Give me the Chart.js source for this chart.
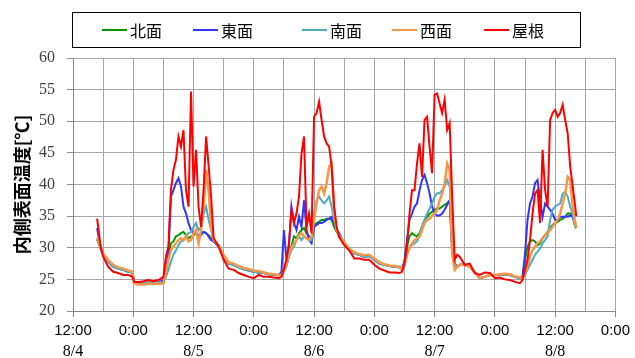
<!DOCTYPE html>
<html lang="ja">
<head>
  <meta charset="UTF-8">
  <title>内側表面温度</title>
  <script src="https://cdn.jsdelivr.net/npm/chart.js"></script>
  <style>
    body { margin: 0; background: #fff; }
    #wrap { width: 635px; height: 358px; }
  </style>
</head>
<body>
<div id="wrap"><canvas id="grafico" width="635" height="358"></canvas></div>
<script>
// hours since 8/4 12:00 (nights hourly, days every 30 min)
const hours = [
  4.8, 5.5, 6, 7, 8, 9, 10, 11, 11.8, 12.2, 13, 14, 15, 16, 17, 18,
  18.5, 19, 19.5, 20, 20.5, 21, 21.5, 22, 22.5, 23, 23.5, 24, 24.5, 25, 25.5, 26, 26.5, 27, 27.5, 28,
  29, 30, 31, 32, 33, 34, 35, 36, 37, 38, 39, 40, 41,
  41.5, 42, 42.5, 43, 43.5, 44, 44.5, 45, 45.5, 46, 46.5, 47, 47.5, 48, 48.5, 49, 49.5, 50, 50.5, 51, 51.5, 52, 52.5, 53,
  54, 55, 56, 57, 58, 59, 60, 61, 62, 63, 64, 65,
  65.5, 66, 66.5, 67, 67.5, 68, 68.5, 69, 69.5, 70, 70.5, 71, 71.5, 72, 72.5, 73, 73.5, 74, 74.5, 75, 75.5, 76,
  76.5, 77, 78, 79, 80, 81, 82, 83, 84, 85, 86, 87, 88, 89,
  89.5, 90, 90.5, 91, 91.5, 92, 92.5, 93, 93.5, 94, 94.5, 95, 95.5, 96, 96.5, 97, 97.5, 98, 98.5, 99, 99.5, 100, 100.2
];

const seriesNames = ['北面', '東面', '南面', '西面', '屋根'];

const kita = [
  31.3, 29.9, 28.9, 27.8, 27.0, 26.7, 26.5, 26.2, 26.1, 24.5, 24.3, 24.3, 24.3, 24.3, 24.3, 24.4,
  26.0, 28.6, 30.7, 31.0, 31.8, 32.0, 32.3, 32.5, 32.0, 31.5, 31.8, 32.0, 32.3, 31.8, 32.0, 32.5, 32.3, 32.0, 31.5, 31.0,
  30.2, 28.6, 27.5, 27.3, 26.9, 26.6, 26.4, 26.2, 26.1, 26.0, 25.8, 25.7, 25.7,
  26.0, 26.5, 27.3, 28.6, 30.2, 31.8, 31.5, 32.3, 32.8, 33.1, 32.3, 31.8, 31.5, 33.3, 33.9, 34.1, 34.4, 34.4, 34.6, 34.6, 34.4, 33.3, 32.5, 32.0,
  30.7, 29.6, 29.1, 28.9, 28.6, 28.7, 28.1, 27.5, 27.3, 27.1, 27.0, 26.9,
  26.7, 27.8, 30.2, 31.8, 32.3, 32.0, 31.8, 32.3, 33.3, 34.4, 34.9, 35.4, 35.7, 36.0, 36.2, 36.2, 36.5, 36.8, 37.0, 37.5, 30.2, 27.5,
  27.0, 27.3, 27.3, 27.0, 26.1, 25.2, 25.4, 25.7, 25.7, 25.7, 25.8, 25.7, 25.4, 25.2,
  25.4, 28.1, 30.2, 31.0, 31.2, 31.0, 30.4, 30.7, 31.5, 32.0, 32.5, 33.1, 33.6, 33.9, 34.1, 34.4, 34.6, 34.9, 35.4, 35.4, 35.1, 33.9, 33.3
];

const higashi = [
  33.1, 29.9, 28.9, 27.8, 27.0, 26.7, 26.5, 26.2, 26.1, 24.6, 24.5, 24.5, 24.5, 24.5, 24.5, 24.9,
  26.5, 29.1, 38.1, 39.1, 40.2, 41.0, 39.7, 36.5, 35.4, 33.9, 32.8, 32.3, 32.5, 31.8, 32.3, 32.5, 32.3, 31.8, 31.2, 31.0,
  30.2, 28.6, 27.5, 27.3, 26.9, 26.6, 26.4, 26.2, 26.1, 26.0, 25.8, 25.7, 25.7,
  26.2, 32.8, 28.1, 30.2, 36.5, 33.9, 32.8, 34.9, 33.3, 37.5, 32.8, 31.2, 30.7, 33.3, 33.6, 33.9, 33.9, 34.1, 34.4, 34.6, 34.9, 33.9, 32.8, 32.3,
  30.7, 29.6, 29.1, 28.9, 28.6, 28.7, 28.1, 27.5, 27.3, 27.1, 27.0, 26.9,
  26.7, 27.8, 31.2, 34.4, 35.4, 36.5, 37.0, 39.1, 40.7, 41.5, 40.2, 38.6, 36.5, 35.4, 35.1, 35.1, 35.4, 36.0, 36.8, 37.5, 29.1, 27.5,
  27.0, 27.3, 27.3, 27.0, 26.1, 25.2, 25.4, 25.7, 25.7, 25.7, 25.8, 25.7, 25.4, 25.2,
  25.4, 29.0, 34.4, 37.0, 38.1, 40.2, 40.7, 37.5, 34.9, 37.0, 36.5, 36.0, 35.4, 34.4, 34.4, 34.9, 34.9, 34.9, 34.9, 35.1, 34.9, 33.3, 33.1
];

const minami = [
  31.5, 29.9, 28.9, 27.8, 27.0, 26.7, 26.5, 26.2, 26.1, 24.6, 24.5, 24.5, 24.5, 24.5, 24.5, 24.5,
  25.4, 26.5, 27.8, 28.9, 29.6, 30.4, 31.0, 31.2, 31.8, 32.3, 32.5, 33.3, 33.9, 32.8, 33.3, 35.4, 36.5, 34.4, 32.8, 31.2,
  30.2, 28.6, 27.5, 27.3, 26.9, 26.6, 26.4, 26.2, 26.1, 26.0, 25.8, 25.7, 25.7,
  25.7, 26.2, 27.0, 28.6, 29.6, 30.2, 31.2, 31.8, 31.2, 31.8, 31.5, 31.2, 31.2, 35.4, 37.5, 38.1, 37.5, 37.0, 37.5, 38.1, 36.5, 34.4, 32.8, 32.0,
  30.7, 29.6, 29.1, 28.9, 28.6, 28.7, 28.1, 27.5, 27.3, 27.1, 27.0, 26.9,
  26.5, 27.3, 29.1, 30.2, 30.4, 30.7, 31.0, 31.8, 33.3, 34.4, 35.4, 36.2, 37.0, 38.1, 38.6, 38.6, 39.1, 39.7, 40.7, 39.7, 30.2, 27.3,
  27.0, 27.3, 27.3, 27.0, 26.1, 25.2, 25.4, 25.7, 25.7, 25.7, 25.8, 25.7, 25.4, 25.2,
  25.2, 25.7, 26.5, 27.3, 28.1, 28.9, 29.4, 29.9, 30.7, 31.2, 31.8, 34.4, 36.0, 36.5, 36.8, 37.0, 38.6, 38.8, 38.1, 36.5, 35.4, 33.3, 33.1
];

const nishi = [
  31.5, 30.2, 29.1, 28.1, 27.3, 26.9, 26.7, 26.4, 26.2, 24.4, 24.2, 24.2, 24.3, 24.3, 24.3, 24.4,
  26.0, 28.1, 29.6, 30.2, 30.7, 31.2, 31.5, 31.2, 31.8, 31.0, 31.2, 32.3, 32.8, 30.7, 32.8, 36.5, 42.3, 39.1, 33.3, 31.2,
  30.4, 28.8, 27.7, 27.5, 27.1, 26.8, 26.6, 26.4, 26.3, 26.1, 25.9, 25.8, 25.7,
  25.7, 26.5, 27.5, 29.1, 29.9, 30.7, 31.2, 32.0, 32.3, 31.8, 31.5, 31.2, 31.8, 34.4, 37.0, 39.1, 39.7, 38.6, 40.2, 42.8, 43.3, 35.4, 32.8, 31.8,
  30.9, 29.8, 29.3, 29.0, 28.8, 28.9, 28.3, 27.7, 27.4, 27.2, 27.1, 27.0,
  26.5, 27.3, 28.9, 29.9, 30.7, 31.2, 31.5, 31.8, 32.8, 33.9, 34.4, 34.6, 35.1, 35.4, 36.0, 37.5, 38.6, 40.2, 43.3, 42.3, 29.1, 26.5,
  27.0, 27.3, 27.3, 27.0, 26.1, 25.2, 25.4, 25.7, 25.7, 25.8, 25.9, 25.8, 25.5, 25.3,
  25.2, 26.0, 27.0, 28.6, 29.6, 30.2, 30.7, 31.0, 31.5, 32.0, 32.3, 32.8, 33.3, 33.9, 34.4, 35.4, 37.0, 38.6, 41.2, 40.7, 36.5, 33.9, 33.1
];

const yane = [
  34.6, 30.2, 28.6, 27.0, 26.2, 26.0, 25.7, 25.7, 25.4, 24.6, 24.6, 24.7, 24.9, 24.7, 24.9, 25.4,
  28.6, 30.2, 39.1, 42.3, 43.9, 47.6, 46.0, 48.6, 39.1, 36.5, 54.7, 39.7, 45.5, 36.5, 33.3, 39.1, 47.6, 43.0, 38.0, 31.5,
  30.2, 28.1, 26.7, 26.5, 26.0, 25.7, 25.4, 25.2, 25.7, 25.4, 25.4, 25.3, 25.2,
  25.4, 26.7, 28.1, 30.7, 36.0, 33.9, 35.4, 38.1, 44.9, 47.6, 33.3, 35.4, 32.3, 50.7, 51.3, 53.1, 50.2, 47.6, 46.5, 46.0, 42.8, 36.5, 33.3, 31.7,
  30.4, 29.6, 28.3, 28.3, 28.1, 28.1, 27.3, 26.7, 26.4, 26.1, 26.1, 26.0,
  26.2, 27.5, 30.2, 35.4, 39.1, 39.1, 43.3, 46.5, 41.2, 50.2, 50.7, 46.0, 41.8, 54.2, 54.4, 52.8, 51.3, 53.4, 48.6, 49.7, 38.1, 28.1,
  28.9, 28.6, 27.3, 27.5, 26.0, 25.7, 26.1, 26.0, 25.2, 25.3, 25.0, 24.9, 24.6, 24.4,
  24.9, 26.5, 28.1, 31.2, 35.4, 38.6, 39.1, 33.9, 45.5, 39.1, 36.5, 50.2, 51.3, 51.8, 50.7, 51.3, 52.6, 50.2, 48.1, 42.8, 39.7, 36.5, 35.0
];

// axis labels
const timeLabels = ['12:00', '0:00', '12:00', '0:00', '12:00', '0:00', '12:00', '0:00', '12:00', '0:00'];
const dateLabels = ['8/4', '8/5', '8/6', '8/7', '8/8'];

const colors = ['#009a00', '#3333ff', '#4bacc6', '#f79646', '#ff0000'];
const widths = [2, 2, 2, 2.5, 2];
const order = [5, 4, 3, 2, 1];
const allSeries = [kita, higashi, minami, nishi, yane];

// legend positions (left of sample line)
const legendX = [102, 193, 302, 392, 484];

const ctx = document.getElementById('grafico').getContext('2d');

const legendBox = {
  id: 'legendBox',
  afterDraw(chart) {
    const c = chart.ctx;
    c.save();
    c.strokeStyle = '#000';
    c.lineWidth = 1;
    c.strokeRect(72.5, 12.5, 508, 35);
    c.font = '16px "Noto Sans CJK JP"';
    c.textBaseline = 'middle';
    c.fillStyle = '#000';
    chart.data.datasets.forEach((ds, i) => {
      const x = legendX[i];
      c.strokeStyle = ds.borderColor;
      c.lineWidth = 2;
      c.beginPath();
      c.moveTo(x, 30);
      c.lineTo(x + 25, 30);
      c.stroke();
      c.fillText(ds.label, x + 28, 30.5);
    });
    c.restore();
  }
};

new Chart(ctx, {
  type: 'line',
  data: {
    datasets: allSeries.map((s, i) => ({
      label: seriesNames[i],
      data: hours.map((h, j) => ({ x: h, y: s[j] })),
      borderColor: colors[i],
      backgroundColor: colors[i],
      borderWidth: widths[i],
      pointRadius: 0,
      tension: 0,
      order: order[i]
    }))
  },
  options: {
    responsive: false,
    animation: false,
    layout: { padding: { top: 58, right: 18, left: 0, bottom: 0 } },
    plugins: { legend: { display: false }, tooltip: { enabled: false } },
    scales: {
      x: {
        type: 'linear',
        min: 0,
        max: 108,
        afterFit(scale) { scale.height = 30; },
        ticks: {
          stepSize: 6,
          autoSkip: false,
          maxRotation: 0,
          padding: 5,
          color: '#000',
          font: { family: 'Liberation Sans', size: 15 },
          callback: v => (v % 12 === 0 ? timeLabels[v / 12] : '')
        },
        grid: {
          color: '#a6a6a6',
          tickLength: 6,
          tickColor: c => (c.tick && c.tick.value % 12 === 0 ? '#888' : 'rgba(0,0,0,0)')
        },
        border: { color: '#888' }
      },
      x2: {
        type: 'linear',
        position: 'bottom',
        min: 0,
        max: 108,
        afterFit(scale) { scale.height = 17; },
        ticks: {
          stepSize: 24,
          autoSkip: false,
          maxRotation: 0,
          padding: 1,
          color: '#000',
          font: { family: 'Liberation Serif', size: 16 },
          callback: v => (v % 24 === 0 ? dateLabels[v / 24] : '')
        },
        grid: { display: false, drawTicks: false },
        border: { display: false }
      },
      y: {
        min: 20,
        max: 60,
        afterFit(scale) { scale.width = 73; },
        ticks: {
          stepSize: 5,
          padding: 12,
          color: '#404040',
          font: { family: 'Liberation Serif', size: 16 }
        },
        grid: { color: '#a6a6a6', tickLength: 6, tickColor: '#888' },
        border: { color: '#888' },
        title: {
          display: true,
          text: '内側表面温度[℃]',
          color: '#000',
          padding: { top: 11, bottom: 0 },
          font: { family: 'Noto Sans CJK JP', size: 18, weight: 'bold' }
        }
      }
    }
  },
  plugins: [legendBox]
});
</script>
</body>
</html>
